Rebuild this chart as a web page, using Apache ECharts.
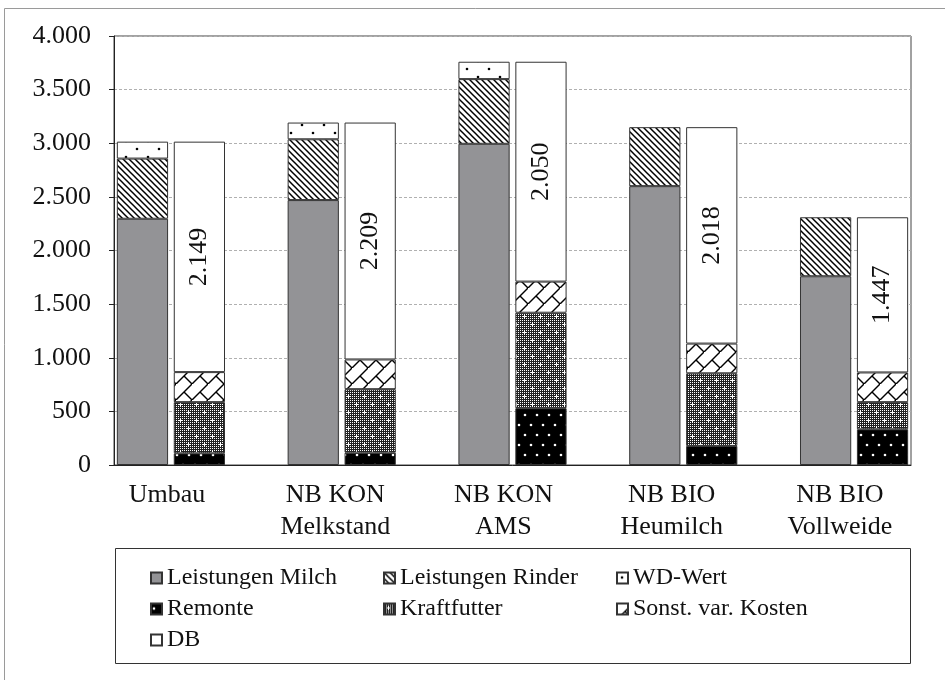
<!DOCTYPE html>
<html>
<head>
<meta charset="utf-8">
<style>
html,body{margin:0;padding:0;background:#fff;}
#chart{width:945px;height:680px;}
</style>
<script src="https://cdn.jsdelivr.net/npm/echarts@6/dist/echarts.min.js"></script>
</head>
<body>
<div id="chart"></div>
<script>
// ---- Data ----
const categories = ['Umbau', 'NB KON\nMelkstand', 'NB KON\nAMS', 'NB BIO\nHeumilch', 'NB BIO\nVollweide'];
// left stack (Leistungen)
const leistungenMilch   = [2296, 2470, 2995, 2600, 1760];
const leistungenRinder  = [561, 567, 603, 550, 550];
const wdWert            = [158, 156, 162, null, null];
// right stack (Kosten + DB)
const remonte           = [109, 115, 530, 178, 333];
const kraftfutter       = [477, 592, 890, 677, 253];
const sonstVarKosten    = [280, 277, 290, 277, 277];
const db                = [2149, 2209, 2050, 2018, 1447];
const yTicks = [0, 500, 1000, 1500, 2000, 2500, 3000, 3500, 4000];

const FONT = '"Liberation Serif", "Times New Roman", serif';
const fmt = v => String(Math.round(v)).replace(/\B(?=(\d{3})+(?!\d))/g, '.');

// 14 slots: [L, R, gap] per category, last gap removed
function slots(values, side) {
  const arr = [];
  for (let i = 0; i < values.length; i++) {
    const v = values[i] == null ? '-' : values[i];
    arr.push(side === 0 ? v : '-', side === 1 ? v : '-', '-');
  }
  arr.pop();
  return arr;
}
const slotCats = slots(categories.map(() => ''), 0).map(() => '');

// ---- Patterns ----
function makeCanvas(w, h, draw) {
  const c = document.createElement('canvas');
  c.width = w; c.height = h;
  draw(c.getContext('2d'), w, h);
  return c;
}
const patRinder = makeCanvas(6, 6, (ctx, w, h) => {
  ctx.fillStyle = '#fff'; ctx.fillRect(0, 0, w, h);
  ctx.strokeStyle = '#000'; ctx.lineWidth = 1.5;
  [-6, 0, 6].forEach(k => { ctx.beginPath(); ctx.moveTo(k - 1, -1); ctx.lineTo(k + 7, 7); ctx.stroke(); });
});
const patWD = makeCanvas(22, 16, (ctx, w, h) => {
  ctx.fillStyle = '#fff'; ctx.fillRect(0, 0, w, h);
  ctx.fillStyle = '#000';
  [[5, 5], [16, 13]].forEach(p => { ctx.beginPath(); ctx.arc(p[0], p[1], 1.3, 0, Math.PI * 2); ctx.fill(); });
});
const patRemonte = makeCanvas(12, 20, (ctx, w, h) => {
  ctx.fillStyle = '#000'; ctx.fillRect(0, 0, w, h);
  ctx.fillStyle = '#fff';
  [[3, 5], [9, 15]].forEach(p => { ctx.beginPath(); ctx.arc(p[0], p[1], 1.3, 0, Math.PI * 2); ctx.fill(); });
});
const patKraft = makeCanvas(16, 16, (ctx, w, h) => {
  ctx.fillStyle = '#222'; ctx.fillRect(0, 0, w, h);
  ctx.fillStyle = '#fff';
  for (let x = 0; x < w; x += 2) for (let y = 0; y < h; y += 2) ctx.fillRect(x, y, 1, 1);
  [[4, 4], [12, 12]].forEach(p => { ctx.fillRect(p[0] - 2, p[1], 5, 1); ctx.fillRect(p[0], p[1] - 2, 1, 5); });
});
const patSonst = makeCanvas(16, 16, (ctx, w, h) => {
  ctx.fillStyle = '#fff'; ctx.fillRect(0, 0, w, h);
  ctx.strokeStyle = '#000'; ctx.lineWidth = 1.4;
  ctx.beginPath(); ctx.moveTo(-2, 18); ctx.lineTo(18, -2); ctx.stroke();
  ctx.beginPath(); ctx.moveTo(8, 8); ctx.lineTo(17, 17); ctx.stroke();
});
const pat = c => ({ image: c, repeat: 'repeat' });

const border = { borderColor: '#333', borderWidth: 1 };
function bar(name, values, side, color, extra) {
  return Object.assign({
    name, type: 'bar', stack: 'all', xAxisIndex: 0, yAxisIndex: 0,
    barCategoryGap: '10%',
    data: slots(values, side),
    itemStyle: Object.assign({ color }, border),
    emphasis: { disabled: true }
  }, extra || {});
}

const series = [
  bar('Leistungen Milch', leistungenMilch, 0, '#939396'),
  bar('Leistungen Rinder', leistungenRinder, 0, pat(patRinder)),
  bar('WD-Wert', wdWert, 0, pat(patWD)),
  bar('Remonte', remonte, 1, pat(patRemonte)),
  bar('Kraftfutter', kraftfutter, 1, pat(patKraft)),
  bar('Sonst. var. Kosten', sonstVarKosten, 1, pat(patSonst)),
  bar('DB', db, 1, '#ffffff', {
    label: {
      show: true, position: 'inside', rotate: 90,
      formatter: p => fmt(p.value),
      fontFamily: FONT, fontSize: 26, color: '#111'
    }
  })
];

const chart = echarts.init(document.getElementById('chart'), null, { renderer: 'canvas' });
chart.setOption({
  animation: false,
  backgroundColor: '#fff',
  textStyle: { fontFamily: FONT },
  graphic: [
    { type: 'rect', z: -10, shape: { x: 4.5, y: 8.5, width: 1000, height: 1000 },
      style: { fill: 'none', stroke: '#9a9a9a', lineWidth: 1 }, silent: true },
    { type: 'rect', z: -10, shape: { x: 115.5, y: 548.5, width: 795, height: 115 },
      style: { fill: 'none', stroke: '#333', lineWidth: 1 }, silent: true }
  ],
  grid: [
    { left: 114, right: 34, top: 36, bottom: 215, show: true, borderColor: '#444', borderWidth: 1, backgroundColor: 'transparent' },
    { left: 83, right: 21, top: 36, bottom: 215, show: false }
  ],
  legend: {
    data: series.map(s => s.name),
    left: 150, top: 566, width: 700, padding: 0,
    itemWidth: 11, itemHeight: 11, itemGap: 7,
    icon: 'rect',
    selectedMode: false,
    formatter: n => '{a|' + n + '}',
    textStyle: {
      fontFamily: FONT, fontSize: 24, color: '#111',
      rich: { a: { width: 209, fontFamily: FONT, fontSize: 24, lineHeight: 21, color: '#111' } }
    }
  },
  xAxis: [
    { type: 'category', gridIndex: 0, data: slotCats,
      axisLine: { show: true, lineStyle: { color: '#222', width: 1 } },
      axisTick: { show: false }, axisLabel: { show: false }, splitLine: { show: false } },
    { type: 'category', gridIndex: 1, data: categories,
      axisLine: { show: false }, axisTick: { show: false }, splitLine: { show: false },
      axisLabel: { interval: 0, margin: 14, fontFamily: FONT, fontSize: 26, lineHeight: 32, color: '#111' } }
  ],
  yAxis: [
    { type: 'value', gridIndex: 0, min: yTicks[0], max: yTicks[yTicks.length - 1], interval: yTicks[1] - yTicks[0],
      axisLine: { show: true, lineStyle: { color: '#222', width: 1 } },
      axisTick: { show: true, length: 5, inside: false, lineStyle: { color: '#222' } },
      axisLabel: { margin: 23, fontFamily: FONT, fontSize: 26, color: '#111', formatter: v => fmt(v) },
      splitLine: { show: true, lineStyle: { color: '#b0b0b0', type: [3, 2], width: 1 } } },
    { type: 'value', gridIndex: 1, min: 0, max: 4000, show: false }
  ],
  series
});
</script>
</body>
</html>
